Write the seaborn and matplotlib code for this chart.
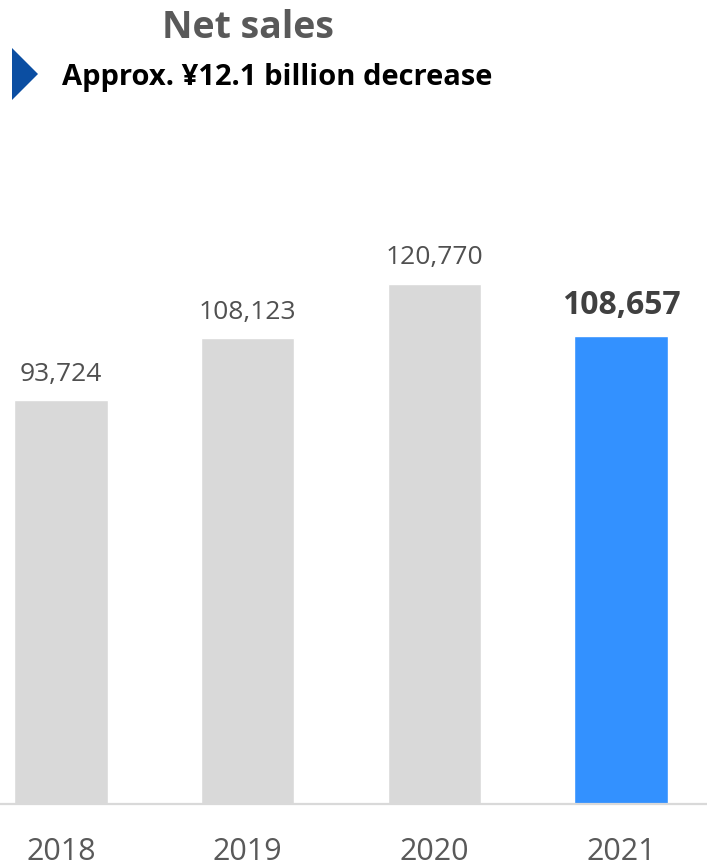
import matplotlib
matplotlib.use("Agg")
import matplotlib.pyplot as plt
from matplotlib.patches import Polygon
import seaborn as sns
import pandas as pd

# Net sales by fiscal year (millions of yen)
years = ["2018", "2019", "2020", "2021"]
net_sales = [93724, 108123, 120770, 108657]
bar_colors = ["#d9d9d9", "#d9d9d9", "#d9d9d9", "#3391ff"]

title = "Net sales"
subtitle = "Approx. ¥12.1 billion decrease"

sns.set_theme(style="white")
plt.rcParams["font.family"] = ["Open Sans", "DejaVu Sans"]

W, H = 707, 865
fig = plt.figure(figsize=(W / 100, H / 100), dpi=100)
ax = fig.add_axes([0, (H - 804) / H, 1, (804 - 140) / H])

df = pd.DataFrame({"year": years, "sales": net_sales})
sns.barplot(data=df, x="year", y="sales", hue="year", palette=bar_colors,
            legend=False, width=0.5, saturation=1, ax=ax)

ax.set_xlim(-0.327, 3.46)
ax.set_ylim(0, 154200)
ax.set_xlabel("")
ax.set_ylabel("")
ax.set_yticks([])
for side in ["left", "right", "top"]:
    ax.spines[side].set_visible(False)
ax.spines["bottom"].set_color("#d9d9d9")
ax.spines["bottom"].set_linewidth(1.6)
ax.tick_params(axis="x", length=0, pad=24, labelsize=22, labelcolor="#595959")

# value labels above each bar; the latest year is emphasised
for i, v in enumerate(net_sales):
    last = i == len(net_sales) - 1
    ax.annotate(f"{v:,}", xy=(i, v), xytext=(0, 10), textcoords="offset points",
                ha="center", va="bottom",
                fontsize=23 if last else 19,
                fontweight="bold" if last else "normal",
                color="#404040" if last else "#505050")

fig.text(248 / W, 1 - 28 / H, title, ha="center", va="center",
         fontsize=27, fontweight="bold", color="#595959")
fig.text(62 / W, 1 - 77 / H, subtitle, ha="left", va="center",
         fontsize=21, fontweight="bold", color="#000000")

tri = Polygon([(12 / W, 1 - 48 / H), (12 / W, 1 - 100 / H), (38 / W, 1 - 74 / H)],
              closed=True, transform=fig.transFigure, facecolor="#0b4ea2",
              edgecolor="none")
fig.patches.append(tri)

fig.savefig("out.png", dpi=100)
